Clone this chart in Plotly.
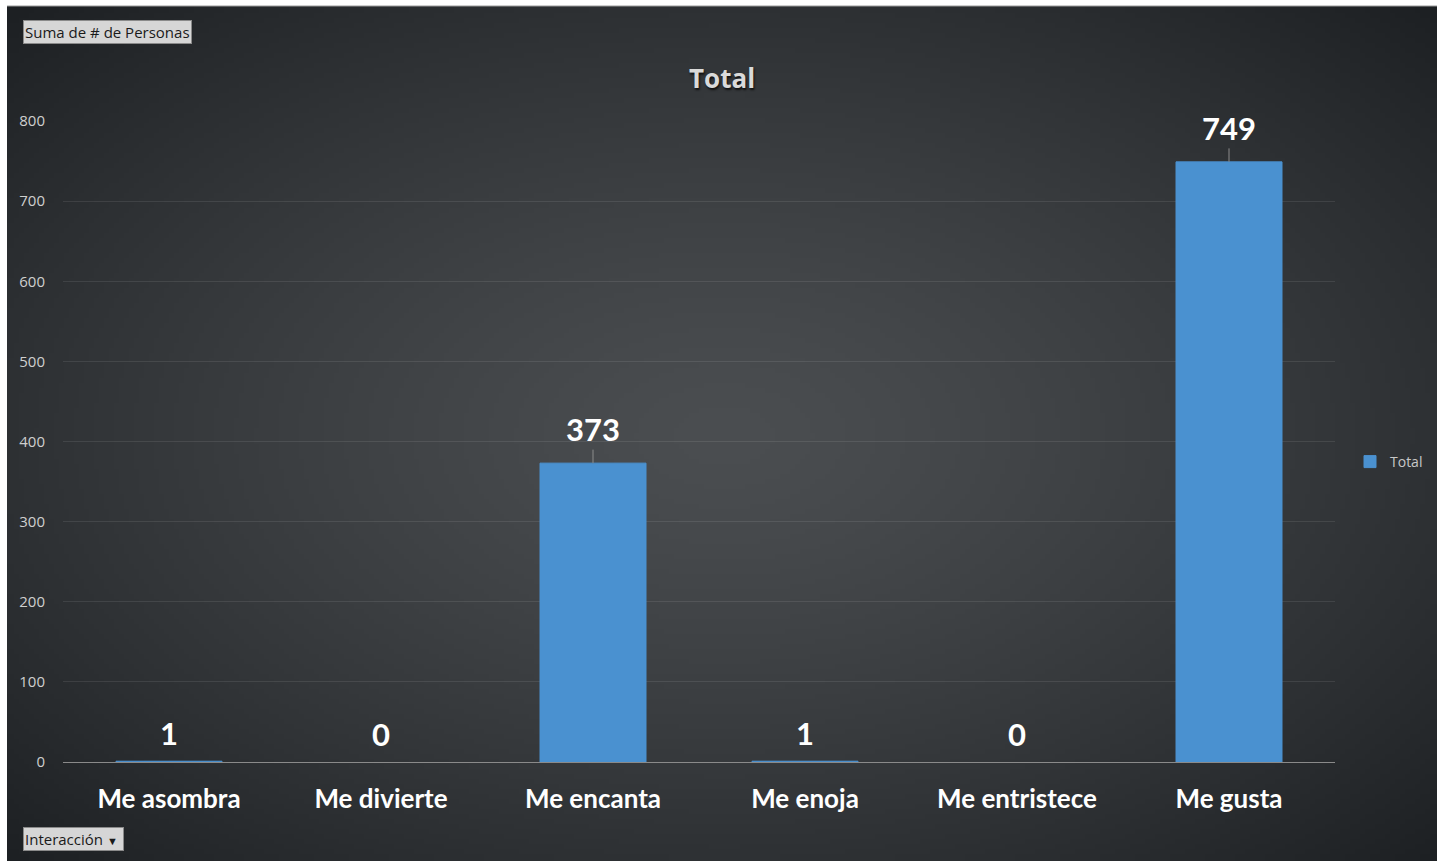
import base64
import struct
import zlib

import numpy as np
import plotly.graph_objects as go

# Pivot chart data: "Suma de # de Personas" by "Interacción"
categories = ["Me asombra", "Me divierte", "Me encanta", "Me enoja", "Me entristece", "Me gusta"]
values = [1, 0, 373, 1, 0, 749]
y_ticks = [0, 100, 200, 300, 400, 500, 600, 700, 800]

W, H = 1442, 861
# plot area in pixels
PL, PR, PT, PB = 63, 1335, 121, 762
# dark chart-area box in pixels
BX0, BY0, BX1, BY1 = 7, 6, 1437, 861


def radial_png(w, h):
    """Small PNG with a radial dark-grey gradient, stretched over the chart area."""
    yy, xx = np.mgrid[0:h, 0:w]
    cx, cy = w * 0.5, h * 0.5
    d = np.sqrt(((xx - cx) / (w * 0.5)) ** 2 + ((yy - cy) / (h * 0.5)) ** 2) / np.sqrt(2)
    d = np.clip(d, 0, 1) ** 1.3
    inner = np.array([75, 78, 81], float)
    outer = np.array([29, 32, 35], float)
    img = inner[None, None, :] * (1 - d[..., None]) + outer[None, None, :] * d[..., None]
    img = np.clip(img, 0, 255).astype(np.uint8)
    raw = b"".join(b"\x00" + img[r].tobytes() for r in range(h))

    def chunk(tag, data):
        c = struct.pack(">I", len(data)) + tag + data
        return c + struct.pack(">I", zlib.crc32(tag + data) & 0xFFFFFFFF)

    png = b"\x89PNG\r\n\x1a\n"
    png += chunk(b"IHDR", struct.pack(">IIBBBBB", w, h, 8, 2, 0, 0, 0))
    png += chunk(b"IDAT", zlib.compress(raw, 9))
    png += chunk(b"IEND", b"")
    return "data:image/png;base64," + base64.b64encode(png).decode()


pw, ph = PR - PL, PB - PT


def px_x(x):
    return (x - PL) / pw


def px_y(y):
    return (PB - y) / ph


BAR = "#4a91d0"

fig = go.Figure()
fig.add_trace(go.Bar(
    x=categories,
    y=values,
    name="Total",
    marker=dict(
        color=BAR,
        line=dict(width=1, color=[BAR if v > 0 else "rgba(0,0,0,0)" for v in values]),
    ),
    hoverinfo="x+y",
))

# value labels with short leader lines
for cat, v in zip(categories, values):
    big = v > 10
    fig.add_annotation(
        x=cat, y=v, text=f"<b>{v}</b>",
        showarrow=big, arrowhead=0, arrowwidth=1, arrowcolor="#8c8c8c",
        ax=0, ay=-34 if big else -28,
        yanchor="middle" if big else "bottom",
        yshift=0 if big else 7,
        font=dict(family="Lato", size=31, color="#ffffff"),
    )

# pivot field buttons
BTN_FONT = dict(family="Open Sans", size=15, color="#1a1a1a")
fig.add_annotation(
    xref="paper", yref="paper", x=px_x(23), y=px_y(20),
    xanchor="left", yanchor="top", showarrow=False,
    text="Suma de # de Personas", font=BTN_FONT,
    bgcolor="#d6d6d6", bordercolor="#8a8a8a", borderwidth=1, borderpad=1,
)
fig.add_annotation(
    xref="paper", yref="paper", x=px_x(23), y=px_y(827),
    xanchor="left", yanchor="top", showarrow=False,
    text="Interacción <span style='font-size:11px'>▼</span> ", font=BTN_FONT,
    bgcolor="#d6d6d6", bordercolor="#8a8a8a", borderwidth=1, borderpad=1,
)

# chart title
fig.add_annotation(
    xref="paper", yref="paper", x=px_x(722), y=px_y(78),
    xanchor="center", yanchor="middle", showarrow=False,
    text="<b>Total</b>",
    font=dict(family="Open Sans", size=26, color="#dadada",
              shadow="1px 2px 2px #111111"),
)

fig.add_layout_image(
    source=radial_png(286, 171),
    xref="paper", yref="paper",
    x=px_x(BX0), y=px_y(BY0),
    sizex=(BX1 - BX0) / pw, sizey=(BY1 - BY0) / ph,
    xanchor="left", yanchor="top", sizing="stretch", layer="below",
)

# thin border on top of the chart box
fig.add_shape(type="line", xref="paper", yref="paper",
              x0=px_x(BX0), x1=px_x(BX1), y0=px_y(BY0), y1=px_y(BY0),
              line=dict(color="#9a9a9a", width=1), layer="above")

fig.update_layout(
    width=W, height=H,
    margin=dict(l=PL, r=W - PR, t=PT, b=H - PB, pad=0),
    paper_bgcolor="#ffffff",
    plot_bgcolor="rgba(0,0,0,0)",
    bargap=0.5,
    showlegend=True,
    legend=dict(
        x=px_x(1350), y=px_y(462), xanchor="left", yanchor="middle",
        font=dict(family="Open Sans", size=14, color="#c8c8c8"),
        bgcolor="rgba(0,0,0,0)", itemwidth=30,
    ),
    xaxis=dict(
        showgrid=False, showline=True, linecolor="#8a8a8a", linewidth=1,
        ticks="", tickfont=dict(family="Lato", size=26, color="#ffffff"),
        ticklabelstandoff=14, fixedrange=True,
        tickprefix="<b>", ticksuffix="</b>",
    ),
    yaxis=dict(
        range=[0, 800], tickvals=y_ticks, showgrid=True,
        gridcolor="rgba(255,255,255,0.09)", gridwidth=1,
        zeroline=False, showline=False,
        tickfont=dict(family="Open Sans", size=15, color="#cfcfcf"),
        ticklabelstandoff=17, fixedrange=True,
    ),
)

fig.write_html("out.html")
